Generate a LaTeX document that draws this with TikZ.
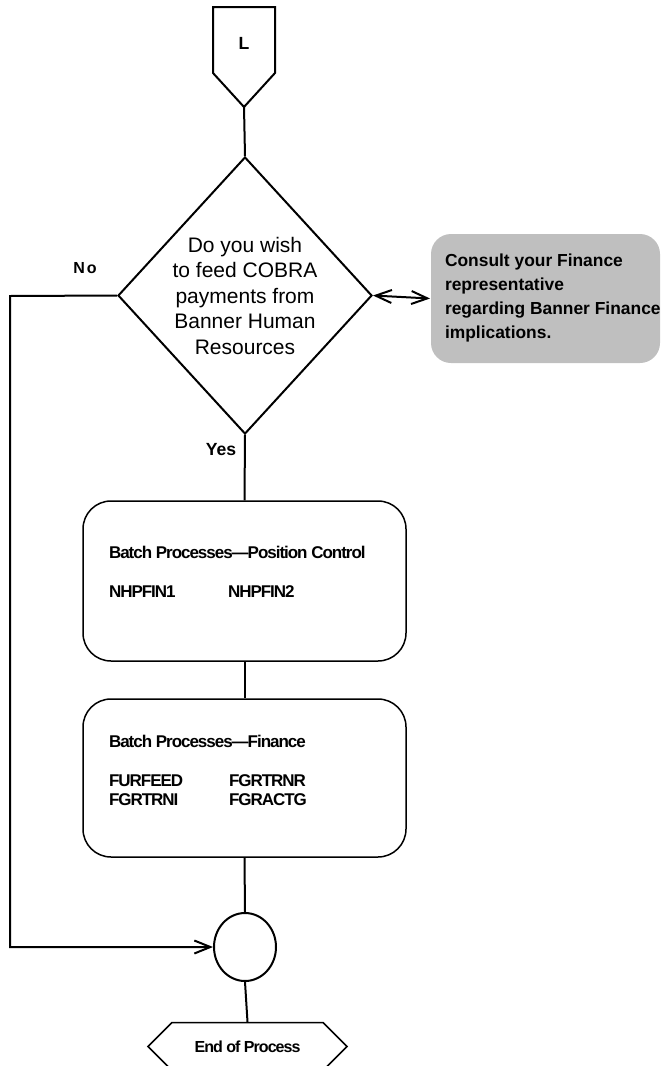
\documentclass[tikz,border=0pt]{standalone}
\usepackage{fontspec}
\setmainfont{Liberation Sans}
\newfontfamily\tightfont[LetterSpace=-6]{Liberation Sans}
\newfontfamily\widefont[LetterSpace=12]{Liberation Sans}
\usetikzlibrary{arrows.meta,shapes.geometric,shapes.misc}
\definecolor{notegray}{HTML}{BFBFBF}

\begin{document}
\begin{tikzpicture}[
  x=0.5pt, y=-0.5pt, line width=1pt,
  >={Straight Barb[length=8pt,width=6.5pt]},
  decision/.style={diamond, draw, aspect=0.92, inner sep=0pt,
    minimum width=127pt, minimum height=138.5pt, align=center,
    font=\fontsize{10.5}{12.75}\selectfont},
  procbox/.style={draw, line width=0.75pt, rounded corners=14pt,
    minimum width=161.5pt},
  boxtext/.style={anchor=west, inner sep=0pt, align=left,
    font=\tightfont\bfseries\fontsize{8.5}{9.5}\selectfont},
  notebox/.style={fill=notegray, rounded corners=10pt,
    minimum width=114.5pt, minimum height=64.5pt},
  lbl/.style={font=\bfseries\fontsize{8.8}{10}\selectfont, inner sep=0pt}
]
\useasboundingbox (0,0) rectangle (661,1066);

% off-page connector
\draw (213,7) -- (275,7) -- (275,73) -- (244,107) -- (213,73) -- cycle;
\node[lbl] (conn) at (244,43) {L};
\coordinate (conntip) at (244,107);

% decision
\node[decision] (dec) at (245,295.5)
  {Do you wish\\to feed COBRA\\payments from\\Banner Human\\Resources};
\node[lbl, font=\widefont\bfseries\fontsize{8}{10}\selectfont] (no) at (85,268) {No};
\node[lbl] (yes) at (221,450) {Yes};

% finance note
\node[notebox] (note) at (545.5,298.5) {};
\node[anchor=west, inner sep=0pt, align=left,
  font=\bfseries\fontsize{8.7}{11.85}\selectfont] (notetext) at (444,298)
  {Consult your Finance\\representative\\regarding Banner Finance\\implications.};

% batch processes
\node[procbox, minimum height=80pt] (pos) at (244.5,581) {};
\node[boxtext] (postitle) at (108,552) {Batch Processes—Position Control};
\node[boxtext] (posa) at (108,592) {NHPFIN1};
\node[boxtext] (posb) at (227,592) {NHPFIN2};

\node[procbox, minimum height=79pt] (fin) at (244.5,778) {};
\node[boxtext] (fintitle) at (108,741) {Batch Processes—Finance};
\node[boxtext] (fina) at (108,790.5) {FURFEED\\FGRTRNI};
\node[boxtext] (finb) at (228,790.5) {FGRTRNR\\FGRACTG};

% join and end
\node[ellipse, draw, minimum width=31pt, minimum height=34pt, inner sep=0pt] (join) at (245,947) {};
\node[chamfered rectangle, draw, line width=0.75pt, chamfered rectangle xsep=7pt,
  chamfered rectangle ysep=9pt, minimum width=99.5pt, minimum height=18.5pt,
  inner sep=0pt, font=\tightfont\bfseries\fontsize{8}{9}\selectfont] (end) at (247.5,1046.5) {End of Process};

% connectors
\draw (conntip) -- (dec.north);
\draw[<->] (dec.east) -- (note.west);
\draw (dec.south) -- (pos.north);
\draw (pos.south) -- (fin.north);
\draw (fin.south) -- (join.north);
\draw (join.south) -- (end.north);
\coordinate (back) at (10,296);
\draw[->] (dec.west) -- (back) |- (join.west);
\end{tikzpicture}
\end{document}
